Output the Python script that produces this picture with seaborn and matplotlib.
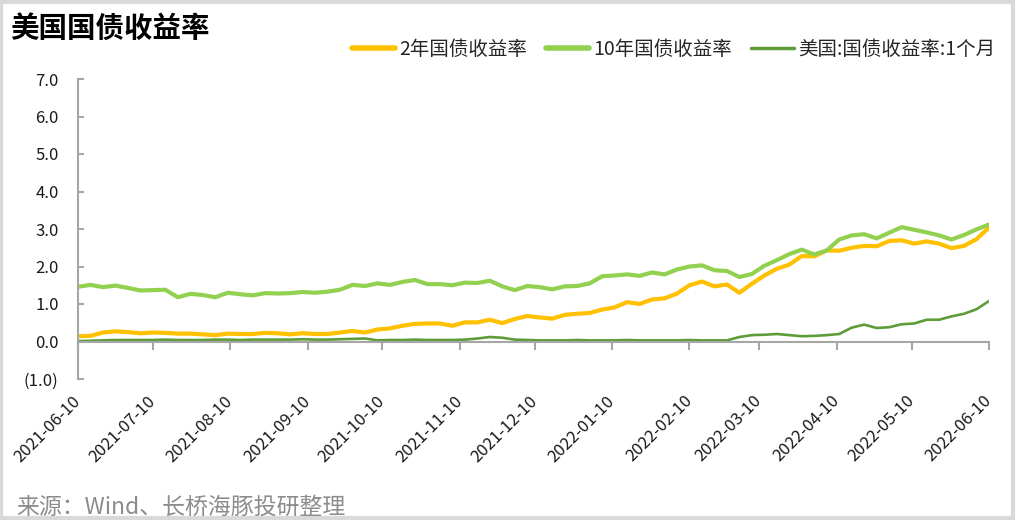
import numpy as np
import pandas as pd
import matplotlib
matplotlib.use("Agg")
import matplotlib.pyplot as plt
import seaborn as sns
from matplotlib.ticker import FuncFormatter
from matplotlib.patches import Rectangle

sns.set_theme(style="white")
plt.rcParams["font.family"] = ["Noto Sans CJK SC", "DejaVu Sans"]

title = "美国国债收益率"
source = "来源：Wind、长桥海豚投研整理"
series_names = ["2年国债收益率", "10年国债收益率", "美国:国债收益率:1个月"]
series_colors = ["#FFC000", "#92D050", "#5E9C3A"]

dates = pd.date_range("2021-06-10", "2022-06-10", freq="5D")

y2 = [0.14, 0.15, 0.24, 0.27, 0.25, 0.22, 0.24, 0.23, 0.21, 0.21,
      0.19, 0.17, 0.21, 0.20, 0.20, 0.23, 0.22, 0.19, 0.22, 0.20,
      0.20, 0.24, 0.28, 0.24, 0.32, 0.35, 0.42, 0.47, 0.48, 0.48,
      0.42, 0.51, 0.51, 0.58, 0.49, 0.60, 0.68, 0.64, 0.61, 0.71,
      0.74, 0.76, 0.85, 0.91, 1.05, 1.00, 1.12, 1.15, 1.28, 1.50,
      1.60, 1.47, 1.52, 1.30, 1.54, 1.76, 1.94, 2.05, 2.28, 2.27,
      2.43, 2.42, 2.50, 2.55, 2.54, 2.68, 2.70, 2.61, 2.67, 2.61,
      2.49, 2.55, 2.73, 3.04]

y10 = [1.46, 1.51, 1.45, 1.49, 1.43, 1.36, 1.37, 1.38, 1.18, 1.27,
       1.24, 1.18, 1.30, 1.26, 1.23, 1.29, 1.28, 1.29, 1.32, 1.30,
       1.33, 1.38, 1.51, 1.48, 1.55, 1.51, 1.59, 1.64, 1.53, 1.53,
       1.50, 1.57, 1.56, 1.62, 1.47, 1.37, 1.48, 1.45, 1.39, 1.47,
       1.48, 1.55, 1.74, 1.76, 1.79, 1.75, 1.84, 1.79, 1.92, 2.00,
       2.03, 1.90, 1.88, 1.72, 1.80, 2.02, 2.17, 2.33, 2.45, 2.32,
       2.43, 2.72, 2.83, 2.86, 2.75, 2.90, 3.05, 2.98, 2.91, 2.83,
       2.72, 2.84, 2.99, 3.12]

m1 = [0.01, 0.02, 0.03, 0.04, 0.04, 0.04, 0.04, 0.05, 0.04, 0.04,
      0.04, 0.05, 0.05, 0.04, 0.05, 0.05, 0.05, 0.05, 0.06, 0.05,
      0.05, 0.06, 0.07, 0.08, 0.03, 0.04, 0.04, 0.05, 0.04, 0.04,
      0.04, 0.05, 0.08, 0.12, 0.10, 0.05, 0.04, 0.03, 0.03, 0.03,
      0.04, 0.03, 0.03, 0.03, 0.04, 0.03, 0.03, 0.03, 0.03, 0.04,
      0.03, 0.03, 0.03, 0.12, 0.17, 0.18, 0.20, 0.17, 0.14, 0.15,
      0.17, 0.20, 0.37, 0.45, 0.36, 0.38, 0.46, 0.48, 0.58, 0.58,
      0.67, 0.74, 0.86, 1.08]

tick_labels = ["2021-06-10", "2021-07-10", "2021-08-10", "2021-09-10",
               "2021-10-10", "2021-11-10", "2021-12-10", "2022-01-10",
               "2022-02-10", "2022-03-10", "2022-04-10", "2022-05-10",
               "2022-06-10"]
y_ticks = [-1, 0, 1, 2, 3, 4, 5, 6, 7]

W, H = 1018, 520
fig = plt.figure(figsize=(W / 100, H / 100), dpi=100)
fig.patch.set_facecolor("white")
ax = fig.add_axes([78 / W, 1 - 379 / H, (989 - 78) / W, 300 / H])
ax.set_facecolor("white")

widths = [3.0, 3.0, 1.9]
for vals, name, col, lw in zip([y2, y10, m1], series_names, series_colors, widths):
    df = pd.DataFrame({"date": dates, "value": vals})
    sns.lineplot(data=df, x="date", y="value", ax=ax, color=col,
                 linewidth=lw, label=name, solid_capstyle="round")

ax.set_xlim(pd.Timestamp(tick_labels[0]), pd.Timestamp(tick_labels[-1]))
ax.set_ylim(-1, 7)
ax.set_xlabel("")
ax.set_ylabel("")

gray = "#A6A6A6"
for s in ["top", "right"]:
    ax.spines[s].set_visible(False)
ax.spines["left"].set_color(gray)
ax.spines["left"].set_linewidth(1.5)
ax.spines["bottom"].set_color(gray)
ax.spines["bottom"].set_linewidth(1.5)
ax.spines["bottom"].set_position(("data", 0))

ax.set_yticks(y_ticks)
ax.yaxis.set_major_formatter(FuncFormatter(
    lambda v, p: f"({abs(v):.1f})" if v < 0 else f"{v:.1f}"))
ax.tick_params(axis="y", direction="in", length=4, width=1.5, color=gray,
               labelsize=12, labelcolor="#1a1a1a", pad=14, left=True)

ax.set_xticks([pd.Timestamp(t) for t in tick_labels])
ax.set_xticklabels(tick_labels, rotation=45, ha="right", va="center",
                   rotation_mode="anchor")
ax.tick_params(axis="x", direction="out", length=6, width=1.5, color=gray,
               labelsize=12, labelcolor="#1a1a1a", pad=35, bottom=True)
ax.grid(False)

handles, labels = ax.get_legend_handles_labels()
leg = ax.legend(handles, labels, loc="center right", ncol=3,
                bbox_to_anchor=(995 / W, 1 - 49 / H),
                bbox_transform=fig.transFigure, frameon=False,
                fontsize=14, handlelength=2.2, handletextpad=0.2,
                columnspacing=1.0, borderaxespad=0, borderpad=0)
for line in leg.get_lines():
    line.set_linewidth(4 if line.get_color() != "#5E9C3A" else 2.5)

fig.text(10 / W, 1 - 15 / H, title, fontsize=20.5, fontweight="bold",
         ha="left", va="top", color="black")
fig.text(16 / W, 1 - 496 / H, source, fontsize=16.5, ha="left", va="top",
         color="#8c8c8c")

fig.patches.append(Rectangle((1 / W, 2 / H), (W - 6) / W, (H - 4) / H,
                             transform=fig.transFigure, fill=False,
                             edgecolor="#d9d9d9", linewidth=3))

fig.savefig("out.png", dpi=100, facecolor="white")
